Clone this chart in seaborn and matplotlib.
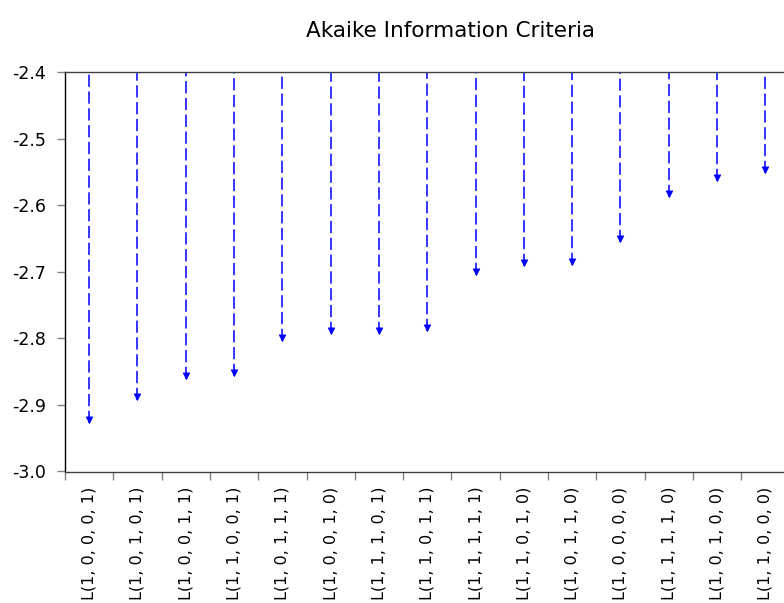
import numpy as np
import pandas as pd
import matplotlib
matplotlib.use("Agg")
import matplotlib.pyplot as plt
from matplotlib.path import Path
from matplotlib.markers import MarkerStyle
import seaborn as sns

# ---- data ----
models = [
    "L(1, 0, 0, 0, 1)", "L(1, 0, 1, 0, 1)", "L(1, 0, 0, 1, 1)", "L(1, 1, 0, 0, 1)",
    "L(1, 0, 1, 1, 1)", "L(1, 0, 0, 1, 0)", "L(1, 1, 1, 0, 1)", "L(1, 1, 0, 1, 1)",
    "L(1, 1, 1, 1, 1)", "L(1, 1, 0, 1, 0)", "L(1, 0, 1, 1, 0)", "L(1, 0, 0, 0, 0)",
    "L(1, 1, 1, 1, 0)", "L(1, 0, 1, 0, 0)", "L(1, 1, 0, 0, 0)",
]
aic = [
    -2.927, -2.893, -2.861, -2.856, -2.804, -2.794, -2.794, -2.789,
    -2.705, -2.691, -2.690, -2.656, -2.587, -2.564, -2.552,
]
y_ticks = [-3.0, -2.9, -2.8, -2.7, -2.6, -2.5, -2.4]
title = "Akaike Information Criteria"

df = pd.DataFrame({"model": models, "aic": aic})

sns.set_theme(style="white")
plt.rcParams["font.family"] = ["DejaVu Sans"]

fig = plt.figure(figsize=(7.84, 6.03), dpi=100)
ax = fig.add_axes([65 / 784, 1 - 471.5 / 603, (789.5 - 65) / 784, (471.5 - 72) / 603])

blue = "#0000FF"
top = -2.4

# dashed drop lines
pos = np.arange(len(models))
ax.vlines(pos, df["aic"], top, colors=blue, linewidth=1.1,
          linestyles=(0, (8, 3)), zorder=2)

# arrow heads with tip at the value
tri = Path([(-0.5, 1.0), (0.5, 1.0), (0.0, 0.0), (-0.5, 1.0)],
           [Path.MOVETO, Path.LINETO, Path.LINETO, Path.CLOSEPOLY])
sns.scatterplot(data=df, x="model", y="aic", ax=ax, marker=MarkerStyle(tri),
                s=90, color=blue, edgecolor=blue, linewidth=0.5, zorder=3,
                legend=False)

ax.set_xlim(-0.5, len(models) - 0.5)
ax.set_ylim(-3.0, -2.4)
ax.set_yticks(y_ticks)
ax.set_yticklabels([f"{v:.1f}" for v in y_ticks])
ax.set_xticks(pos)
ax.set_xticklabels(models, rotation=90, ha="center", va="top")
ax.set_xticks(np.arange(len(models) + 1) - 0.5, minor=True)
ax.set_xlabel("")
ax.set_ylabel("")

ax.tick_params(axis="x", which="major", length=0, pad=11, labelsize=11.5, colors="black")
ax.tick_params(axis="x", which="minor", length=6, width=1, color="#808080", bottom=True)
ax.tick_params(axis="y", which="major", length=6, width=1, color="#808080",
               pad=7.5, labelsize=12.5, left=True, labelcolor="black")

for side in ["left", "top", "bottom"]:
    ax.spines[side].set_visible(True)
    ax.spines[side].set_linewidth(1.0)
ax.spines["left"].set_color("#000000")
ax.spines["top"].set_color("#404040")
ax.spines["bottom"].set_color("#404040")
ax.spines["right"].set_visible(False)
ax.grid(False)

fig.text(451 / 784, 1 - 37 / 603, title, ha="center", va="baseline",
         fontsize=15.5, color="black")

fig.savefig("out.png", dpi=100)
